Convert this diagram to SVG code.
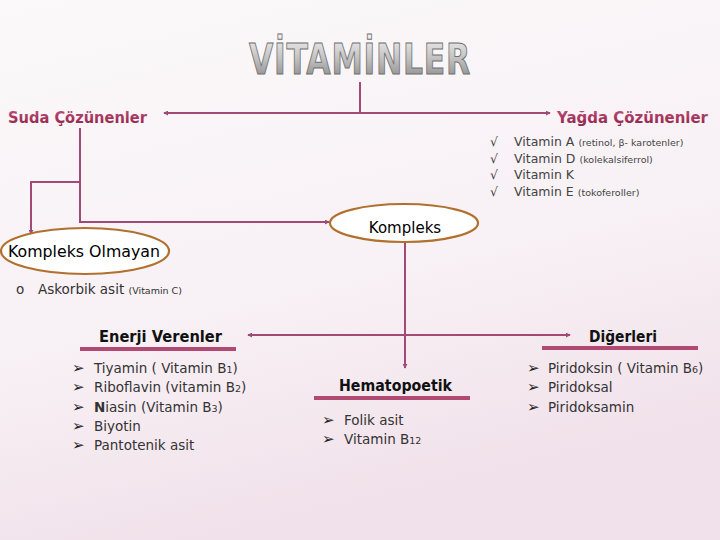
<svg xmlns="http://www.w3.org/2000/svg" width="720" height="540" viewBox="0 0 720 540">
<defs>
<linearGradient id="bg" x1="0" y1="0" x2="0.3" y2="1">
<stop offset="0" stop-color="#fbf9fa"/>
<stop offset="0.6" stop-color="#f8f1f5"/>
<stop offset="1" stop-color="#f1e1ea"/>
</linearGradient>
<linearGradient id="tg" x1="0" y1="0" x2="0" y2="1">
<stop offset="0" stop-color="#f4f4f4"/>
<stop offset="0.5" stop-color="#c0c0c0"/>
<stop offset="1" stop-color="#808080"/>
</linearGradient>
<linearGradient id="hg" x1="0" y1="0" x2="0" y2="1">
<stop offset="0" stop-color="#c0507a"/>
<stop offset="1" stop-color="#8a1e44"/>
</linearGradient>
<marker id="ar" viewBox="0 0 6 6" refX="5" refY="3" markerWidth="5" markerHeight="5" orient="auto-start-reverse" markerUnits="userSpaceOnUse">
<path d="M0,0 L6,3 L0,6 z" fill="#a04a75"/>
</marker>
<style>
.ln{stroke:#a04a75;stroke-width:2;fill:none}
.ul{stroke:#b04a72;stroke-width:4}
.hd{font-family:"DejaVu Sans",sans-serif;font-weight:bold;font-size:15px;fill:url(#hg)}
.nd{font-family:"DejaVu Sans",sans-serif;font-size:15px;fill:#000}
.sb{font-family:"DejaVu Sans",sans-serif;font-size:15px;fill:#111;font-weight:bold}
.it{font-family:"DejaVu Sans",sans-serif;font-size:13.5px;fill:#333}
.bu{font-family:"DejaVu Sans",sans-serif;font-size:15px;fill:#222}
.sm{font-size:9.5px}
.ya{font-family:"DejaVu Sans",sans-serif;font-size:12.5px;fill:#444}
.el{fill:#ffffff;stroke:#b0702e;stroke-width:2.2}
</style>
</defs>
<rect width="720" height="540" fill="url(#bg)"/>

<g id="title">
<text x="360" y="74" text-anchor="middle" font-family="DejaVu Sans, sans-serif" font-weight="bold" font-size="42" letter-spacing="1" fill="url(#tg)" stroke="#6f6f6f" stroke-width="1" textLength="222" lengthAdjust="spacingAndGlyphs">VİTAMİNLER</text>
</g>

<g id="connectors">
<path class="ln" d="M360,82 V113"/>
<path class="ln" d="M360,113 H164" marker-end="url(#ar)"/>
<path class="ln" d="M360,113 H550" marker-end="url(#ar)"/>
<path class="ln" d="M80,128 V222 H329" marker-end="url(#ar)"/>
<path class="ln" d="M80,182 H31 V234" marker-end="url(#ar)"/>
<path class="ln" d="M405,242 V368" marker-end="url(#ar)"/>
<path class="ln" d="M405,335 H248" marker-end="url(#ar)"/>
<path class="ln" d="M405,335 H570" marker-end="url(#ar)"/>
</g>

<g id="suda">
<text class="hd" x="8" y="123" textLength="139" lengthAdjust="spacingAndGlyphs">Suda Çözünenler</text>
</g>

<g id="yagda">
<text class="hd" x="557" y="123" textLength="151" lengthAdjust="spacingAndGlyphs">Yağda Çözünenler</text>
<g class="ya">
<text x="490" y="146">√</text><text x="514" y="146">Vitamin A <tspan class="sm">(retinol, β- karotenler)</tspan></text>
<text x="490" y="162.5">√</text><text x="514" y="162.5">Vitamin D <tspan class="sm">(kolekalsiferrol)</tspan></text>
<text x="490" y="179">√</text><text x="514" y="179">Vitamin K</text>
<text x="490" y="195.5">√</text><text x="514" y="195.5">Vitamin E <tspan class="sm">(tokoferoller)</tspan></text>
</g>
</g>

<g id="kompleks-olmayan">
<ellipse class="el" cx="85" cy="251" rx="84" ry="23"/>
<text class="nd" x="84" y="257" text-anchor="middle" textLength="152" lengthAdjust="spacingAndGlyphs">Kompleks Olmayan</text>
<text class="it" x="16" y="294">o</text>
<text class="it" x="38" y="294">Askorbik asit <tspan class="sm">(Vitamin C)</tspan></text>
</g>

<g id="kompleks">
<ellipse class="el" cx="404" cy="223" rx="74" ry="19"/>
<text class="nd" x="405" y="233" text-anchor="middle">Kompleks</text>
</g>

<g id="enerji">
<text class="sb" x="99" y="342" textLength="123" lengthAdjust="spacingAndGlyphs">Enerji Verenler</text>
<line class="ul" x1="80" y1="349" x2="236" y2="349"/>
<g class="bu">
<text x="72" y="373">➢</text><text x="72" y="392">➢</text><text x="72" y="412">➢</text><text x="72" y="431">➢</text><text x="72" y="450">➢</text>
</g>
<g class="it">
<text x="94" y="373">Tiyamin ( Vitamin B<tspan class="sm">1</tspan>)</text>
<text x="94" y="392">Riboflavin (vitamin B<tspan class="sm">2</tspan>)</text>
<text x="94" y="412"><tspan font-weight="bold">N</tspan>iasin (Vitamin B<tspan class="sm">3</tspan>)</text>
<text x="94" y="431">Biyotin</text>
<text x="94" y="450">Pantotenik asit</text>
</g>
</g>

<g id="hematopoetik">
<text class="sb" x="339" y="391" textLength="113" lengthAdjust="spacingAndGlyphs">Hematopoetik</text>
<line class="ul" x1="314" y1="398" x2="470" y2="398"/>
<g class="bu">
<text x="322" y="425">➢</text><text x="322" y="444">➢</text>
</g>
<g class="it">
<text x="344" y="425">Folik asit</text>
<text x="344" y="444">Vitamin B<tspan class="sm">12</tspan></text>
</g>
</g>

<g id="digerleri">
<text class="sb" x="589" y="342" textLength="68" lengthAdjust="spacingAndGlyphs">Diğerleri</text>
<line class="ul" x1="542" y1="348" x2="698" y2="348"/>
<g class="bu">
<text x="527" y="373">➢</text><text x="527" y="392">➢</text><text x="527" y="412">➢</text>
</g>
<g class="it">
<text x="548" y="373">Piridoksin ( Vitamin B<tspan class="sm">6</tspan>)</text>
<text x="548" y="392">Piridoksal</text>
<text x="548" y="412">Piridoksamin</text>
</g>
</g>
</svg>
